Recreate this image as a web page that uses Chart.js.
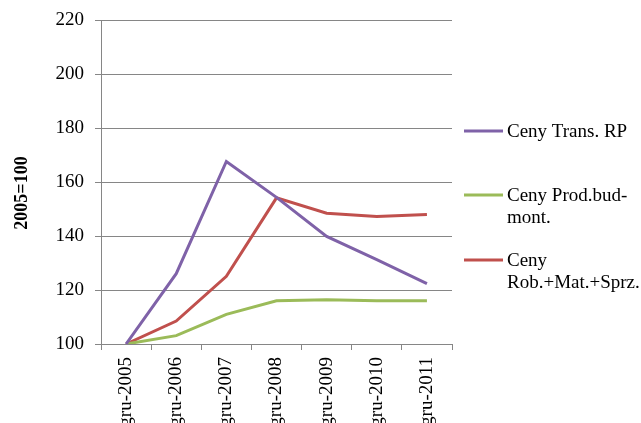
<!DOCTYPE html>
<html>
<head>
<meta charset="utf-8">
<script src="https://cdn.jsdelivr.net/npm/chart.js@4/dist/chart.umd.min.js"></script>
<style>
  html, body { margin: 0; padding: 0; background: #fff; overflow: hidden; }
  #wrap { width: 641px; height: 423px; position: relative; }
</style>
</head>
<body>
<div id="wrap"><canvas id="c" width="641" height="423"></canvas></div>
<script>
// Categories and series (index, 2005 = 100)
const categories = ['gru-2005', 'gru-2006', 'gru-2007', 'gru-2008', 'gru-2009', 'gru-2010', 'gru-2011'];
const cenyTransRP = [100, 126.1, 167.7, 154.4, 139.9, 131.3, 122.4];
const cenyProdBudMont = [100, 103.1, 111.0, 116.0, 116.4, 116.0, 116.0];
const cenyRobMatSprz = [100, 108.5, 125.1, 154.2, 148.5, 147.3, 148.0];

// Legend labels, already split into lines
const legendLabels = [
  ['Ceny Trans. RP'],
  ['Ceny Prod.bud-', 'mont.'],
  ['Ceny', 'Rob.+Mat.+Sprz.']
];
const yTitle = '2005=100';

const PURPLE = '#7F62A8';
const GREEN = '#9BBB59';
const RED = '#C0504D';
const GRID = '#868686';
const SERIF = '"Liberation Serif", "Times New Roman", serif';

// Draws the wrapped legend on the right and the rotated y-axis title
const sidePlugin = {
  id: 'sideLegend',
  afterDraw(chart) {
    const ctx = chart.ctx;
    ctx.save();
    // y-axis title
    ctx.translate(22, 193);
    ctx.rotate(-Math.PI / 2);
    ctx.font = 'bold 18px ' + SERIF;
    ctx.fillStyle = '#000';
    ctx.textAlign = 'center';
    ctx.textBaseline = 'middle';
    ctx.fillText(yTitle, 0, 0);
    ctx.restore();

    ctx.save();
    const rows = [131, 195, 260];
    chart.data.datasets.forEach((ds, i) => {
      const y = rows[i];
      ctx.strokeStyle = ds.borderColor;
      ctx.lineWidth = 3;
      ctx.beginPath();
      ctx.moveTo(464, y);
      ctx.lineTo(503, y);
      ctx.stroke();
      ctx.font = '19px ' + SERIF;
      ctx.fillStyle = '#000';
      ctx.textAlign = 'left';
      ctx.textBaseline = 'alphabetic';
      legendLabels[i].forEach((line, k) => {
        ctx.fillText(line, 507, y + 6 + k * 22);
      });
    });
    ctx.restore();
  }
};

new Chart(document.getElementById('c'), {
  type: 'line',
  data: {
    labels: categories,
    datasets: [
      { label: legendLabels[0].join(' '), data: cenyTransRP, borderColor: PURPLE },
      { label: legendLabels[1].join(''), data: cenyProdBudMont, borderColor: GREEN },
      { label: legendLabels[2].join(' '), data: cenyRobMatSprz, borderColor: RED }
    ].map(d => Object.assign(d, {
      borderWidth: 3, pointRadius: 0, pointHoverRadius: 0, tension: 0, fill: false
    }))
  },
  options: {
    responsive: false,
    animation: false,
    events: [],
    layout: { padding: { left: 0, right: 189, top: 19, bottom: 0 } },
    plugins: { legend: { display: false }, tooltip: { enabled: false } },
    scales: {
      x: {
        offset: true,
        grid: { display: true, drawOnChartArea: false, offset: true, color: GRID, tickLength: 6 },
        border: { display: true, color: GRID, width: 1 },
        ticks: {
          minRotation: 90, maxRotation: 90, autoSkip: false, padding: 7,
          color: '#000', font: { family: SERIF, size: 19 }
        },
        afterFit(scale) { scale.height = 79; }
      },
      y: {
        min: 100, max: 220,
        grid: { color: GRID, tickLength: 6 },
        border: { display: true, color: GRID, width: 1 },
        ticks: {
          stepSize: 20, padding: 11,
          color: '#000', font: { family: SERIF, size: 19, lineHeight: 1 }
        },
        afterFit(scale) { scale.width = 101; }
      }
    }
  },
  plugins: [sidePlugin]
});
</script>
</body>
</html>
